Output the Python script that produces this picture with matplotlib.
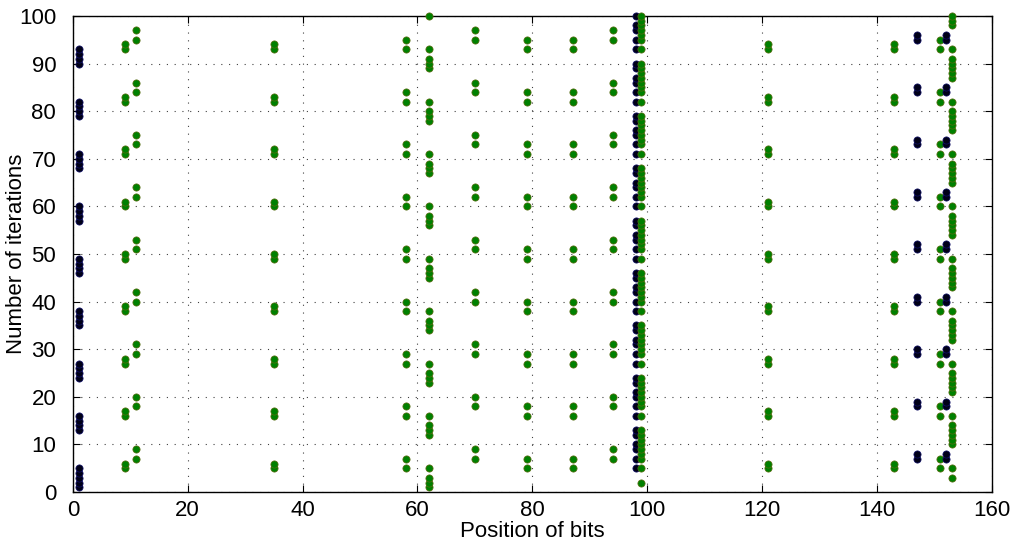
import matplotlib
matplotlib.use("Agg")
import matplotlib.pyplot as plt

plt.rcParams['font.family'] = ['Liberation Sans', 'DejaVu Sans']

# iterations at which each bit position shows up
# black columns
black_x1 = [1, 2, 3, 4, 5, 13, 14, 15, 16, 24, 25, 26, 27, 35, 36, 37, 38,
            46, 47, 48, 49, 57, 58, 59, 60, 68, 69, 70, 71, 79, 80, 81, 82,
            90, 91, 92, 93]
black_x98 = [5, 7, 9, 10, 12, 13, 16, 18, 20, 21, 23, 24, 27, 29, 31, 32, 34, 35,
             38, 40, 42, 43, 45, 46, 49, 51, 53, 54, 56, 57, 60, 62, 64, 65, 67, 68,
             71, 73, 75, 76, 78, 79, 82, 84, 86, 87, 89, 90, 93, 95, 97, 98, 100]
black_x147 = [7, 8, 18, 19, 29, 30, 40, 41, 51, 52, 62, 63, 73, 74, 84, 85, 95, 96]
black_x152 = [7, 8, 18, 19, 29, 30, 40, 41, 51, 52, 62, 63, 73, 74, 84, 85, 95, 96]

# green columns
green_x9 = [5, 6, 16, 17, 27, 28, 38, 39, 49, 50, 60, 61, 71, 72, 82, 83, 93, 94]
green_x11 = [7, 9, 18, 20, 29, 31, 40, 42, 51, 53, 62, 64, 73, 75, 84, 86, 95, 97]
green_x35 = [5, 6, 16, 17, 27, 28, 38, 39, 49, 50, 60, 61, 71, 72, 82, 83, 93, 94]
green_x58 = [5, 7, 16, 18, 27, 29, 38, 40, 49, 51, 60, 62, 71, 73, 82, 84, 93, 95]
green_x62 = [1, 2, 3, 5, 12, 13, 14, 16, 23, 24, 25, 27, 34, 35, 36, 38,
             45, 46, 47, 49, 56, 57, 58, 60, 67, 68, 69, 71, 78, 79, 80, 82,
             89, 90, 91, 93, 100]
green_x70 = [7, 9, 18, 20, 29, 31, 40, 42, 51, 53, 62, 64, 73, 75, 84, 86, 95, 97]
green_x79 = [5, 7, 16, 18, 27, 29, 38, 40, 49, 51, 60, 62, 71, 73, 82, 84, 93, 95]
green_x87 = [5, 7, 16, 18, 27, 29, 38, 40, 49, 51, 60, 62, 71, 73, 82, 84, 93, 95]
green_x94 = [7, 9, 18, 20, 29, 31, 40, 42, 51, 53, 62, 64, 73, 75, 84, 86, 95, 97]
green_x99 = [2, 5, 7, 8, 9, 10, 11, 12, 13, 16, 18, 19, 20, 21, 22, 23, 24,
             27, 29, 30, 31, 32, 33, 34, 35, 38, 40, 41, 42, 43, 44, 45, 46,
             49, 51, 52, 53, 54, 55, 56, 57, 60, 62, 63, 64, 65, 66, 67, 68,
             71, 73, 74, 75, 76, 77, 78, 79, 82, 84, 85, 86, 87, 88, 89, 90,
             93, 95, 96, 97, 98, 99, 100]
green_x121 = [5, 6, 16, 17, 27, 28, 38, 39, 49, 50, 60, 61, 71, 72, 82, 83, 93, 94]
green_x143 = [5, 6, 16, 17, 27, 28, 38, 39, 49, 50, 60, 61, 71, 72, 82, 83, 93, 94]
green_x151 = [5, 7, 16, 18, 27, 29, 38, 40, 49, 51, 60, 62, 71, 73, 82, 84, 93, 95]
green_x153 = [3, 5, 10, 11, 12, 13, 14, 16, 21, 22, 23, 24, 25, 27, 32, 33, 34, 35, 36,
              38, 43, 44, 45, 46, 47, 49, 54, 55, 56, 57, 58, 60, 65, 66, 67, 68, 69,
              71, 76, 77, 78, 79, 80, 82, 87, 88, 89, 90, 91, 93, 98, 99, 100]

green = dict(marker='o', linestyle='none', markersize=5.2,
             markerfacecolor='#008000', markeredgecolor='#5a6a10', markeredgewidth=0.5)
black = dict(marker='o', linestyle='none', markersize=5.2,
             markerfacecolor='#000018', markeredgecolor='#10106a', markeredgewidth=0.5)

# drawn left to right so neighbouring columns overlap like the original
columns = [
    (1, black_x1, black), (9, green_x9, green), (11, green_x11, green),
    (35, green_x35, green), (58, green_x58, green), (62, green_x62, green),
    (70, green_x70, green), (79, green_x79, green), (87, green_x87, green),
    (94, green_x94, green), (98, black_x98, black), (99, green_x99, green),
    (121, green_x121, green), (143, green_x143, green), (147, black_x147, black),
    (151, green_x151, green), (152, black_x152, black), (153, green_x153, green),
]

fig = plt.figure(figsize=(10.12, 5.48), dpi=100)
ax = fig.add_axes([0.072, 0.102, 0.908, 0.869])

for xpos, ys, style in columns:
    ax.plot([xpos] * len(ys), ys, **style, clip_on=False, zorder=3)

ax.set_xlim(0, 160)
ax.set_ylim(0, 100)
ax.set_xticks(range(0, 161, 20))
ax.set_yticks(range(0, 101, 10))
ax.grid(True, linestyle=(0, (1, 6)), color='k', linewidth=0.8, alpha=0.75)
ax.tick_params(direction='in', top=True, right=True, labelsize=16, length=5)
ax.tick_params(axis='y', pad=12)
ax.tick_params(axis='x', pad=6)
for s in ax.spines.values():
    s.set_linewidth(1.0)

ax.set_xlabel('Position of bits', fontsize=16, labelpad=0)
ax.set_ylabel('Number of iterations', fontsize=16)
ax.yaxis.set_label_coords(-0.050, 0.5)

fig.savefig('out.png', dpi=100)
